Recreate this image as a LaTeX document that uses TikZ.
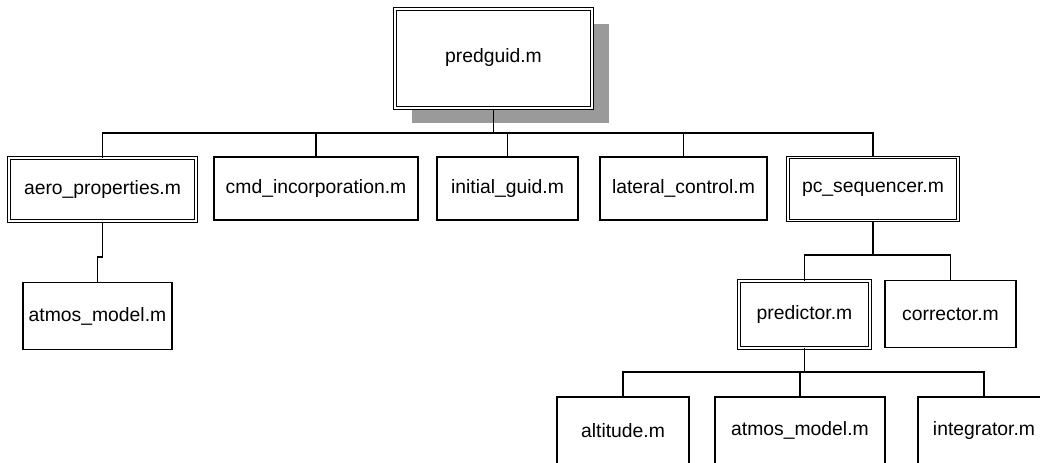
\documentclass[tikz,border=0pt]{standalone}
\usepackage{fontspec}
\setmainfont{Liberation Sans}
\usepackage{tikz}
\usetikzlibrary{positioning,shadows}
\definecolor{shade}{HTML}{9A9A9A}

\begin{document}
\begin{tikzpicture}[x=0.75pt, y=-0.75pt, every node/.style={font=\fontsize{14.5}{17}\selectfont}, line width=1.1pt,
  cell/.style={draw, fill=white, inner sep=0pt, minimum height=47.25pt}, low/.style={cell, minimum height=50pt},
  dbl/.style={double=white, double distance=1.3pt, line width=0.75pt}]
\clip (0,0) rectangle (1040,462);
\node[cell, dbl, minimum width=147.75pt, minimum height=74.25pt, text depth=4pt, drop shadow={shadow xshift=12.5pt, shadow yshift=-11.5pt, fill=shade, opacity=1}] (top) at (493.5,58.5) {predguid.m};
\node[cell, dbl, minimum width=140pt] (aero) at (102.5,189.5) {aero\_properties.m};\node[cell, minimum width=153pt] (cmd) at (316,188.5) {cmd\_incorporation.m};
\node[cell, minimum width=105.75pt] (init) at (507.5,188.5) {initial\_guid.m};\node[cell, minimum width=125.25pt] (lat) at (683.5,188.5) {lateral\_control.m};
\node[cell, dbl, minimum width=127.5pt] (pcs) at (873,189) {pc\_sequencer.m};
\node[low, minimum width=111.75pt] (atm1) at (97.5,316) {atmos\_model.m};
\node[low, dbl, minimum width=98.25pt] (pred) at (804.5,314.5) {predictor.m};\node[low, minimum width=98.25pt] (corr) at (950.5,314) {corrector.m};
\node[low, minimum width=99pt] (alt) at (623,430.5) {altitude.m};\node[low, minimum width=127.5pt] (atm2) at (800,430.5) {atmos\_model.m};\node[low, minimum width=99pt] (integ) at (984,430.5) {integrator.m};
% buses
\coordinate (bus1) at (0,133);\coordinate (bus2) at (0,255);\coordinate (bus3) at (0,372);\coordinate (jog) at (0,257);
\draw (aero.north) |- (bus1 -| pcs.north) -- (pcs.north);
\foreach \n in {top.south,cmd.north,init.north,lat.north} \draw (\n) -- (\n |- bus1);
\draw (aero.south) -- (aero.south |- jog) -| (atm1.north);
\draw (pred.north) |- (bus2 -| corr.north) -- (corr.north);\draw (pcs.south) -- (pcs.south |- bus2);
\draw (alt.north) |- (bus3 -| integ.north) -- (integ.north);
\draw (pred.south) -- (pred.south |- bus3);\draw (atm2.north) -- (atm2.north |- bus3);
\end{tikzpicture}
\end{document}
